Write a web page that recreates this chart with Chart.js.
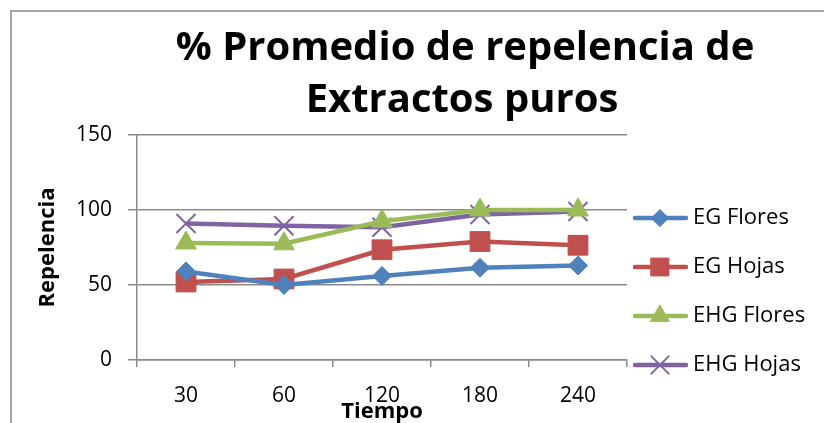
<!DOCTYPE html>
<html>
<head>
<meta charset="utf-8">
<script src="https://cdn.jsdelivr.net/npm/chart.js@4/dist/chart.umd.min.js"></script>
<style>
  html, body { margin: 0; padding: 0; background: #fff; }
  #wrap { width: 824px; height: 423px; }
</style>
</head>
<body>
<div id="wrap"><canvas id="chart" width="824" height="423"></canvas></div>
<script>
const tiempos = ['30', '60', '120', '180', '240'];
const egFlores = [59, 50, 56, 61.5, 63];
const egHojas = [52, 54, 73.5, 79, 76.5];
const ehgFlores = [78, 77.5, 92.5, 100, 100];
const ehgHojas = [91, 89.5, 88.5, 97, 99];
const yTicks = [0, 50, 100, 150];

const FONT = "'Open Sans', sans-serif";
const GRID = '#898989';

const series = [
    { label: 'EG Flores', data: egFlores, color: '#4F81BD', style: 'rectRot', r: 9.5 },
    { label: 'EG Hojas', data: egHojas, color: '#C0504D', style: 'rect', r: 14 },
    { label: 'EHG Flores', data: ehgFlores, color: '#9BBB59', style: 'triangle', r: 12 },
    { label: 'EHG Hojas', data: ehgHojas, color: '#8064A2', style: 'crossRot', r: 13.5 }
];

// title, legend and frame are drawn by hand to match the Excel layout
const excelBits = {
    id: 'excelBits',
    afterDraw(chart) {
        const ctx = chart.ctx;
        ctx.save();

        // outer frame
        ctx.strokeStyle = GRID;
        ctx.lineWidth = 1.5;
        ctx.beginPath();
        ctx.moveTo(11, 423);
        ctx.lineTo(11, 11);
        ctx.lineTo(824, 11);
        ctx.stroke();

        // title
        ctx.fillStyle = '#000';
        ctx.textAlign = 'center';
        ctx.textBaseline = 'alphabetic';
        ctx.font = "bold 40px " + FONT;
        ctx.fillText('% Promedio de repelencia de', 465, 60);
        ctx.fillText('Extractos puros', 462, 112);

        // legend
        chart.data.datasets.forEach((ds, i) => {
            const y = 218 + i * 49;
            ctx.strokeStyle = ds.borderColor;
            ctx.lineWidth = ds.borderWidth;
            ctx.lineCap = 'round';
            ctx.beginPath();
            ctx.moveTo(635, y);
            ctx.lineTo(686, y);
            ctx.stroke();
            ctx.fillStyle = ds.pointBackgroundColor;
            ctx.strokeStyle = ds.pointBorderColor;
            ctx.lineWidth = ds.pointBorderWidth;
            Chart.helpers.drawPoint(ctx, { pointStyle: ds.pointStyle, radius: ds.pointRadius * 0.9, borderWidth: ds.pointBorderWidth }, 660, y);
            ctx.fillStyle = '#000';
            ctx.textAlign = 'left';
            ctx.textBaseline = 'middle';
            ctx.font = "22px " + FONT;
            ctx.fillText(ds.label, 693, y);
        });
        ctx.restore();
    }
};

new Chart(document.getElementById('chart'), {
    type: 'line',
    data: {
        labels: tiempos,
        datasets: series.map(s => ({
            label: s.label,
            data: s.data,
            borderColor: s.color,
            backgroundColor: s.color,
            borderWidth: 4.5,
            pointStyle: s.style,
            pointRadius: s.r,
            pointHoverRadius: s.r,
            pointBackgroundColor: s.color,
            pointBorderColor: s.color,
            pointBorderWidth: s.style === 'crossRot' ? 2 : 1,
            tension: 0
        }))
    },
    options: {
        responsive: false,
        animation: false,
        layout: { padding: { top: 135, right: 197, left: 0, bottom: 0 } },
        plugins: {
            legend: { display: false },
            title: { display: false },
            tooltip: { enabled: false }
        },
        scales: {
            x: {
                type: 'category',
                offset: true,
                grid: { offset: true, drawOnChartArea: false, tickLength: 7, color: GRID, lineWidth: 1.5 },
                border: { color: GRID, width: 1.5 },
                ticks: { padding: 16, color: '#000', font: { family: FONT, size: 21 } },
                title: { display: true, text: 'Tiempo', color: '#000', padding: 0, font: { family: FONT, size: 22, weight: 'bold', lineHeight: 1 } },
                afterFit(scale) { scale.height = 63; }
            },
            y: {
                min: 0,
                max: 150,
                afterBuildTicks(scale) { scale.ticks = yTicks.map(v => ({ value: v })); },
                grid: { tickLength: 9, color: GRID, lineWidth: 1.5 },
                border: { color: GRID, width: 1.5 },
                ticks: { padding: 16, color: '#000', font: { family: FONT, size: 21 } },
                title: { display: true, text: 'Repelencia', color: '#000', padding: { top: 37, bottom: 0 }, font: { family: FONT, size: 22, weight: 'bold', lineHeight: 1 } },
                afterFit(scale) { scale.width = 137; }
            }
        }
    },
    plugins: [excelBits]
});
</script>
</body>
</html>
